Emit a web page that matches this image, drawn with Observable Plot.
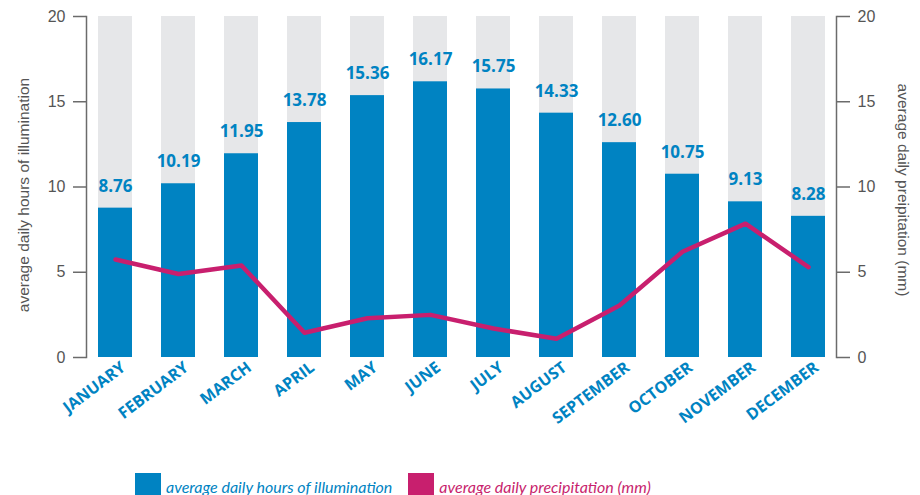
<!DOCTYPE html>
<html>
<head>
<meta charset="utf-8">
<script src="https://cdn.jsdelivr.net/npm/d3@7"></script>
<script src="https://cdn.jsdelivr.net/npm/@observablehq/plot@0.6"></script>
<style>
  body { margin: 0; background: #fff; }
  #chart { width: 920px; }
  .legend { display: flex; align-items: center; margin-top: 8px; padding-left: 135px;
            font-family: Lato, "Open Sans", sans-serif; font-style: italic; font-size: 16px; }
  .legend .sw { width: 26px; height: 26px; display: inline-block; margin-right: 5px; }
  .legend .item { display: flex; align-items: center; margin-right: 16px; }
</style>
</head>
<body>
<div id="chart"></div>
<script>
const months = ["JANUARY","FEBRUARY","MARCH","APRIL","MAY","JUNE","JULY","AUGUST","SEPTEMBER","OCTOBER","NOVEMBER","DECEMBER"];
const hours = [8.76, 10.19, 11.95, 13.78, 15.36, 16.17, 15.75, 14.33, 12.60, 10.75, 9.13, 8.28];
const precip = [5.75, 4.9, 5.4, 1.45, 2.3, 2.5, 1.7, 1.1, 3.05, 6.2, 7.85, 5.3];
const yTicks = [0, 5, 10, 15, 20];
const yMax = 20;
const leftTitle = "average daily hours of illumination";
const rightTitle = "average daily preipitation (mm)";
const legendLabels = ["average daily hours of illumination", "average daily precipitation (mm)"];

const BLUE = "#0083c2", GREY = "#e6e7e9", MAGENTA = "#c81f6e", AXIS = "#6b6b6b", TXT = "#555";

const data = months.map((m, i) => ({month: m, hours: hours[i], precip: precip[i]}));

const chart = Plot.plot({
  width: 920, height: 465,
  marginTop: 16, marginBottom: 108, marginLeft: 86, marginRight: 84,
  style: {fontFamily: "'Liberation Sans', Arial, sans-serif", overflow: "visible", background: "#fff"},
  x: {domain: months, paddingInner: 0.46, paddingOuter: 0.23, insetLeft: -4, insetRight: -6, label: null},
  y: {domain: [0, yMax], label: null},
  marks: [
    Plot.barY(data, {x: "month", y1: 0, y2: () => yMax, fill: GREY}),
    Plot.barY(data, {x: "month", y: "hours", fill: BLUE}),
    Plot.line(data, {x: "month", y: "precip", stroke: MAGENTA, strokeWidth: 4.5}),
    Plot.text(data, {x: "month", y: "hours", text: d => d3.format(".2f")(d.hours), dy: -22,
      fill: BLUE, fontWeight: "bold", fontSize: 17, fontFamily: "'Open Sans', sans-serif"}),
    Plot.frame({anchor: "left", stroke: AXIS, strokeWidth: 1.5}),
    Plot.frame({anchor: "right", stroke: AXIS, strokeWidth: 1.5}),
    Plot.axisY(yTicks, {anchor: "left", tickSize: 13, tickPadding: 8, fontSize: 16, stroke: AXIS, strokeWidth: 1.5, fill: TXT, label: null}),
    Plot.axisY(yTicks, {anchor: "right", tickSize: 13, tickPadding: 8, fontSize: 16, stroke: AXIS, strokeWidth: 1.5, fill: TXT, label: null}),
    Plot.text([leftTitle], {frameAnchor: "left", textAnchor: "middle", text: d => d, rotate: -90, dx: -62, dy: 8, fontSize: 15.5, fill: TXT}),
    Plot.text([rightTitle], {frameAnchor: "right", textAnchor: "middle", text: d => d, rotate: 90, dx: 66, dy: 3, fontSize: 15.5, fill: TXT}),
    Plot.axisX({tickSize: 0, tickRotate: -37, tickPadding: 8, dx: 8, fontSize: 16, fontWeight: "bold",
      fill: BLUE, fontFamily: "'Open Sans', sans-serif", label: null})
  ]
});
document.getElementById("chart").appendChild(chart);

const legend = document.createElement("div");
legend.className = "legend";
[[BLUE, legendLabels[0]], [MAGENTA, legendLabels[1]]].forEach(([c, t]) => {
  const item = document.createElement("span");
  item.className = "item";
  item.innerHTML = `<span class="sw" style="background:${c}"></span><span style="color:${c}">${t}</span>`;
  legend.appendChild(item);
});
document.body.appendChild(legend);
</script>
</body>
</html>
